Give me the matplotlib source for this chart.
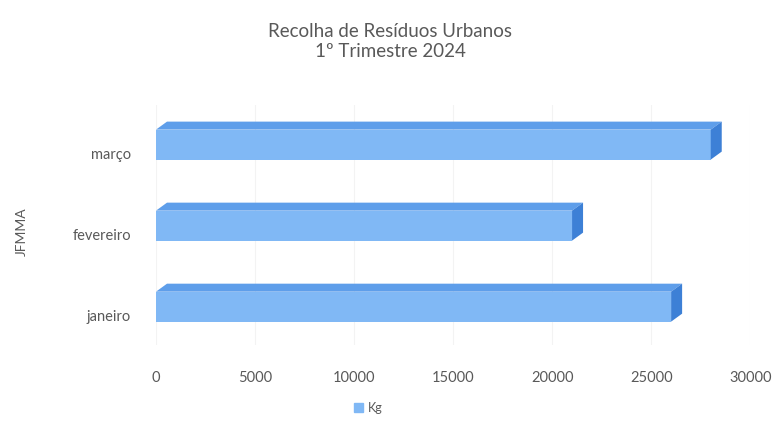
import matplotlib
matplotlib.use("Agg")
import matplotlib.pyplot as plt
import matplotlib.transforms as mtransforms
from matplotlib.patches import Polygon, Patch

# dados
meses = ['janeiro', 'fevereiro', 'março']
kg = [26000, 21000, 28000]
xticks = [0, 5000, 10000, 15000, 20000, 25000, 30000]

plt.rcParams['font.family'] = ['Lato', 'DejaVu Sans']
cinza = '#595959'
frente = '#80B8F5'
topo = '#5E9EEA'
lado = '#3D80D6'

fig = plt.figure(figsize=(7.8, 4.23), dpi=100)
ax = fig.add_axes([0.2, 0.185, 0.762, 0.567])
ax.set_xlim(0, 30000)
ax.set_ylim(-0.47, 2.49)

pos = list(range(len(meses)))
altura = 0.37
ax.barh(pos, kg, height=altura, color=frente, zorder=3)

# profundidade 3D em pixels
dx, dy = 11, 8
fig.canvas.draw()
to_pix = ax.transData.transform
to_data = ax.transData.inverted().transform
for p, v in zip(pos, kg):
    y0, y1 = p - altura / 2, p + altura / 2
    a = to_pix((0, y1)); b = to_pix((v, y1)); c = to_pix((v, y0))
    top = [a, b, b + (dx, dy), a + (dx, dy)]
    side = [c, b, b + (dx, dy), c + (dx, dy)]
    ax.add_patch(Polygon(to_data(top), closed=True, color=topo, zorder=3, lw=0))
    ax.add_patch(Polygon(to_data(side), closed=True, color=lado, zorder=3, lw=0))

ax.set_xticks(xticks)
ax.set_xticklabels([str(t) for t in xticks])
ax.set_yticks(pos)
ax.set_yticklabels(meses)
ax.tick_params(axis='x', length=0, pad=19, labelsize=10.5, labelcolor=cinza)
ax.tick_params(axis='y', length=0, pad=18, labelsize=10.5, labelcolor=cinza)
off = mtransforms.ScaledTranslation(0, -9 / 100, fig.dpi_scale_trans)
for lbl in ax.get_yticklabels():
    lbl.set_transform(lbl.get_transform() + off)
ax.xaxis.grid(True, color='#F3F3F3', lw=0.8, zorder=0)
for s in ax.spines.values():
    s.set_visible(False)

ax.set_ylabel('JFMMA', fontsize=10, color=cinza, labelpad=14)
ax.yaxis.set_label_coords(-0.215, 0.47)

fig.text(0.5, 0.902, 'Recolha de Resíduos Urbanos\n1º Trimestre 2024', ha='center', va='center',
         fontsize=13.5, color=cinza, linespacing=1.25)

leg = fig.legend(handles=[Patch(color=frente, label='Kg')], loc='center', bbox_to_anchor=(0.472, 0.035),
                 frameon=False, fontsize=9, handlelength=0.7, handleheight=0.7, handletextpad=0.4)
for t in leg.get_texts():
    t.set_color(cinza)

fig.savefig('out.png', dpi=100)
